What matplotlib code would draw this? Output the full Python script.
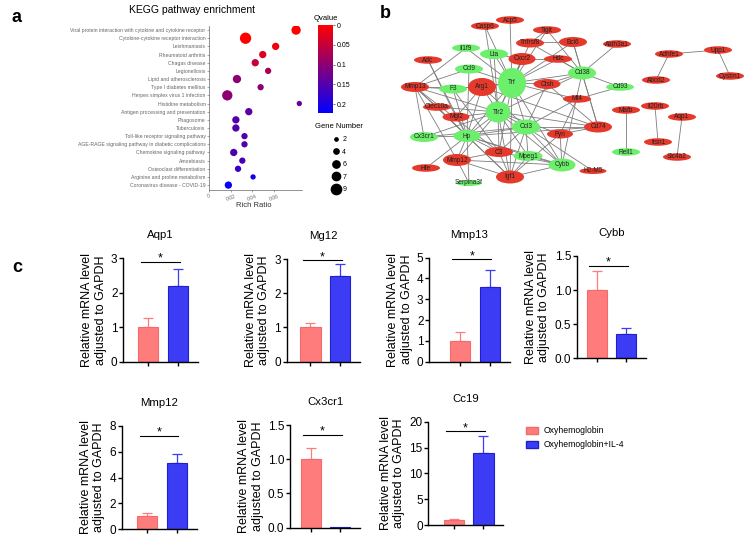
import numpy as np
import matplotlib
matplotlib.use('Agg')
import matplotlib.pyplot as plt
from matplotlib.patches import Ellipse, Patch
from matplotlib.lines import Line2D
from matplotlib.colors import LinearSegmentedColormap, Normalize
from matplotlib.collections import LineCollection

plt.rcParams['font.family'] = ['Liberation Sans', 'DejaVu Sans']

# ---- panel a data ----
pathways = [
    "Viral protein interaction with cytokine and cytokine receptor",
    "Cytokine-cytokine receptor interaction",
    "Leishmaniasis",
    "Rheumatoid arthritis",
    "Chagas disease",
    "Legionellosis",
    "Lipid and atherosclerosis",
    "Type I diabetes mellitus",
    "Herpes simplex virus 1 infection",
    "Histidine metabolism",
    "Antigen processing and presentation",
    "Phagosome",
    "Tuberculosis",
    "Toll-like receptor signaling pathway",
    "AGE-RAGE signaling pathway in diabetic complications",
    "Chemokine signaling pathway",
    "Amoebiasis",
    "Osteoclast differentiation",
    "Arginine and proline metabolism",
    "Coronavirus disease - COVID-19",
]
rich_ratio = [0.081, 0.034, 0.062, 0.050, 0.043, 0.055, 0.026, 0.048, 0.017, 0.084,
              0.037, 0.025, 0.025, 0.033, 0.033, 0.023, 0.031, 0.027, 0.041, 0.018]
qvalue = [0.0, 0.0, 0.01, 0.03, 0.05, 0.075, 0.10, 0.10, 0.10, 0.13,
          0.14, 0.15, 0.15, 0.15, 0.15, 0.155, 0.16, 0.175, 0.205, 0.215]
gene_number = [8, 10, 6, 6, 6, 5, 7, 5, 9, 4, 6, 6, 6, 5, 5, 6, 5, 5, 4, 6]
legend_genes = [2, 4, 6, 7, 9]

# ---- panel b data ----
node_names = ["Acp5", "Casp6", "Tigit", "Tnfrsf8", "Bcl6", "Aldh3a1", "Il1f9", "Lta",
              "Cxcr2", "Hdc", "Adc", "Ccl9", "Cd38", "Trf", "Arg1", "Ctsh", "Mmp13",
              "F3", "Cd93", "Clec10a", "Mt4", "Tlr2", "Mgl2", "Ccl3", "Cd74", "Cx3cr1",
              "Hp", "Fyn", "C3", "Mpeg1", "Mmp12", "Cybb", "Hfe", "H2-M5", "Igf1",
              "Serpina3f", "Adhfe1", "Upp1", "Abcd2", "Cystm1", "Mafb", "Rell1",
              "Il20rb", "Itsn1", "Aqp1", "Slc4a2"]
node_up = ["Acp5", "Casp6", "Tigit", "Tnfrsf8", "Bcl6", "Aldh3a1", "Cxcr2", "Hdc", "Adc",
           "Arg1", "Ctsh", "Mmp13", "Clec10a", "Mt4", "Mgl2", "Cd74", "Fyn", "C3",
           "Mmp12", "Hfe", "H2-M5", "Igf1", "Adhfe1", "Upp1", "Abcd2", "Cystm1",
           "Mafb", "Il20rb", "Itsn1", "Aqp1", "Slc4a2"]
edges = [
    ("Acp5", "Trf"), ("Casp6", "Trf"), ("Casp6", "Tlr2"), ("Tigit", "Trf"), ("Tigit", "Cd38"),
    ("Tigit", "Tnfrsf8"), ("Tnfrsf8", "Trf"), ("Tnfrsf8", "Cd38"), ("Tnfrsf8", "Bcl6"),
    ("Bcl6", "Cd38"), ("Bcl6", "Trf"), ("Bcl6", "Cd74"), ("Aldh3a1", "Cd38"),
    ("Cd38", "Cd93"), ("Cd38", "Cd74"), ("Cd38", "Trf"), ("Cd38", "Hdc"), ("Cd38", "Ctsh"),
    ("Cd38", "Cybb"), ("Cd38", "Tlr2"), ("Cd93", "Mt4"), ("Mt4", "Trf"), ("Mt4", "Ccl3"),
    ("Mt4", "Fyn"), ("Cd74", "Fyn"), ("Cd74", "Tlr2"), ("Cd74", "Ccl3"), ("Cd74", "Hp"),
    ("Ccl3", "H2-M5"), ("Fyn", "Cybb"), ("Fyn", "Tlr2"), ("Fyn", "Igf1"), ("Hdc", "Trf"),
    ("Hdc", "Cxcr2"), ("Cxcr2", "Trf"), ("Cxcr2", "Lta"), ("Cxcr2", "Tlr2"), ("Lta", "Trf"),
    ("Lta", "Tlr2"), ("Il1f9", "Mmp13"), ("Il1f9", "Trf"), ("Adc", "Hp"), ("Adc", "Mgl2"),
    ("Ccl9", "Trf"), ("Ccl9", "Hp"), ("Ccl9", "Mmp13"), ("Arg1", "Trf"), ("Arg1", "Tlr2"),
    ("Arg1", "Mmp13"), ("Arg1", "Hp"), ("Arg1", "Mgl2"), ("Arg1", "Ccl3"), ("Arg1", "Cd74"),
    ("Mmp13", "F3"), ("Mmp13", "Tlr2"), ("Mmp13", "Hp"), ("Mmp13", "Mmp12"),
    ("Mmp13", "Cx3cr1"), ("Mmp13", "Clec10a"), ("Mmp13", "C3"), ("F3", "Trf"), ("F3", "Hp"),
    ("F3", "C3"), ("Clec10a", "Tlr2"), ("Clec10a", "Hp"), ("Clec10a", "Igf1"),
    ("Mgl2", "Tlr2"), ("Mgl2", "Hp"), ("Tlr2", "Trf"), ("Tlr2", "Hp"), ("Tlr2", "Ccl3"),
    ("Tlr2", "C3"), ("Tlr2", "Igf1"), ("Tlr2", "Cybb"), ("Tlr2", "Mpeg1"), ("Tlr2", "Mmp12"),
    ("Trf", "Ccl3"), ("Trf", "Igf1"), ("Trf", "Cybb"), ("Trf", "Ctsh"), ("Trf", "C3"),
    ("Trf", "Hp"), ("Ccl3", "Cybb"), ("Ccl3", "Igf1"), ("Ccl3", "Mpeg1"), ("Ccl3", "Hp"),
    ("Ccl3", "C3"), ("Cx3cr1", "Hp"), ("Cx3cr1", "Tlr2"), ("Cx3cr1", "Ccl3"), ("Hp", "C3"),
    ("Hp", "Mmp12"), ("Hp", "Igf1"), ("Hp", "Hfe"), ("Hp", "Mpeg1"), ("Hp", "Cybb"),
    ("C3", "Igf1"), ("C3", "Mmp12"), ("C3", "Cybb"), ("Mpeg1", "Cybb"), ("Mpeg1", "Igf1"),
    ("Mmp12", "Igf1"), ("Mmp12", "Serpina3f"), ("Mmp12", "Cybb"), ("Igf1", "Cybb"),
    ("Serpina3f", "Hp"), ("Ctsh", "Ccl3"), ("Ctsh", "Cd74"),
    ("Adhfe1", "Upp1"), ("Adhfe1", "Abcd2"), ("Upp1", "Cystm1"), ("Mafb", "Rell1"),
    ("Il20rb", "Itsn1"), ("Aqp1", "Slc4a2"),
]

# ---- panel c data ----
qpcr_genes = ["Aqp1", "Mg12", "Mmp13", "Cybb", "Mmp12", "Cx3cr1", "Cc19"]
oxy_mean = [1.0, 1.0, 1.0, 1.0, 1.0, 1.0, 1.0]
oxy_err = [0.26, 0.12, 0.42, 0.28, 0.27, 0.16, 0.10]
il4_mean = [2.2, 2.5, 3.58, 0.35, 5.15, 0.005, 13.9]
il4_err = [0.48, 0.34, 0.82, 0.09, 0.65, 0.0, 3.3]
y_max = [3, 3, 5, 1.5, 8, 1.5, 20]
y_step = [1, 1, 1, 0.5, 2, 0.5, 5]
groups = ["Oxyhemoglobin", "Oxyhemoglobin+IL-4"]

# ---- layout (pixels) ----
W, H = 749, 537
node_pos = {
    "Acp5": (510, 20), "Casp6": (485, 26), "Tigit": (547, 30), "Tnfrsf8": (530, 43),
    "Bcl6": (573, 42), "Aldh3a1": (617, 44), "Il1f9": (466, 48), "Lta": (494, 54),
    "Cxcr2": (522, 59), "Hdc": (558, 59), "Adc": (428, 60), "Ccl9": (469, 69),
    "Cd38": (582, 73), "Trf": (512, 83), "Arg1": (482, 87), "Ctsh": (547, 84),
    "Mmp13": (415, 87), "F3": (453, 89), "Cd93": (620, 87), "Clec10a": (437, 107),
    "Mt4": (577, 99), "Tlr2": (498, 112), "Mgl2": (456, 117), "Ccl3": (526, 127),
    "Cd74": (598, 127), "Cx3cr1": (424, 137), "Hp": (467, 136), "Fyn": (560, 134),
    "C3": (499, 152), "Mpeg1": (528, 156), "Mmp12": (457, 160), "Cybb": (562, 165),
    "Hfe": (426, 168), "H2-M5": (593, 171), "Igf1": (510, 177), "Serpina3f": (469, 183),
    "Adhfe1": (669, 54), "Upp1": (718, 50), "Abcd2": (656, 80), "Cystm1": (730, 76),
    "Mafb": (626, 110), "Rell1": (626, 152), "Il20rb": (655, 106), "Itsn1": (658, 142),
    "Aqp1": (682, 117), "Slc4a2": (677, 157),
}
node_size = {"Trf": (28, 30), "Tlr2": (25, 21), "Arg1": (28, 18), "Ccl3": (28, 15),
             "Cd38": (28, 13), "Cybb": (27, 13), "Igf1": (28, 13), "Hp": (27, 12),
             "Cxcr2": (27, 12), "Mmp12": (28, 12), "Cd74": (28, 11), "Bcl6": (28, 10),
             "Lta": (28, 10), "Ctsh": (27, 10), "Mmp13": (28, 10), "Cx3cr1": (28, 10),
             "C3": (28, 10), "Mpeg1": (29, 10), "Tnfrsf8": (28, 9), "Ccl9": (28, 9),
             "F3": (28, 9), "Mgl2": (27, 9), "Fyn": (26, 9), "H2-M5": (27, 6),
             "Serpina3f": (26, 6)}
bar_box = [(123, 258.3, 198, 361.8), (286.7, 259, 360, 361.7), (429, 257.7, 510, 361.7),
           (576.7, 256, 646, 358.3), (121.7, 426, 196.7, 529), (290, 425, 360, 527.7),
           (428.3, 421.7, 503.3, 525)]
bar_xleft = [-0.85, -0.8, -1.03, -0.68, -0.87, -0.7, -0.86]
sig_frac = [0.967, 0.99, 0.985, 0.907, 0.906, 0.907, 0.91]


def box(l, t, r, b):
    return [l / W, 1 - b / H, (r - l) / W, (b - t) / H]


def dot_diam(g):
    # bubble diameter in pixels for a gene count
    return 1.3 + 1.0 * g


fig = plt.figure(figsize=(W / 100, H / 100), dpi=100)

#
# b: network, drawn in pixel coordinates on a figure-wide axes
#
axn = fig.add_axes([0, 0, 1, 1], zorder=0)
axn.set_xlim(0, W)
axn.set_ylim(H, 0)
axn.axis('off')
axn.patch.set_visible(False)
segs = [[node_pos[a], node_pos[b]] for a, b in edges]
axn.add_collection(LineCollection(segs, colors='#7c7c7c', linewidths=0.6, zorder=1))
for name in node_names:
    x, y = node_pos[name]
    w, h = node_size.get(name, (28, 7.5))
    fc = '#e5392c' if name in node_up else '#6cf06c'
    axn.add_patch(Ellipse((x, y), w, h, facecolor=fc, edgecolor='none', zorder=2))
    axn.text(x, y, name, ha='center', va='center', fontsize=4.7, color='#202020', zorder=3)
axn.text(380, 14, 'b', fontsize=13, fontweight='bold', va='center', ha='left')
axn.text(12, 18, 'a', fontsize=13, fontweight='bold', va='center', ha='left')
axn.text(12, 267, 'c', fontsize=13, fontweight='bold', va='center', ha='left')

#
# a: KEGG bubble plot
#
ax = fig.add_axes(box(209, 26, 302, 190))
cmap = LinearSegmentedColormap.from_list('qv', ['#ff0000', '#0000ff'])
norm = Normalize(0, 0.222)
rows = np.arange(len(pathways))
sizes = [(dot_diam(g) * 0.72) ** 2 for g in gene_number]
sc = ax.scatter(rich_ratio, rows, s=sizes, c=qvalue, cmap=cmap, norm=norm,
                edgecolors='none', zorder=3)
ax.set_ylim(19.6, -0.5)
ax.set_xlim(0, 0.0865)
ax.set_yticks(rows)
ax.set_yticklabels(pathways, fontsize=3.7, color='#555555')
ax.set_xticks([0, 0.02, 0.04, 0.06])
ax.set_xticklabels(['0', '0.02', '0.04', '0.06'], fontsize=3.7, color='#555555', rotation=20)
for s in ['top', 'right']:
    ax.spines[s].set_visible(False)
for s in ['left', 'bottom']:
    ax.spines[s].set_color('#666666')
    ax.spines[s].set_linewidth(0.5)
ax.tick_params(length=1.5, width=0.4, colors='#666666', pad=1)
fig.text(192 / W, 1 - 10 / H, 'KEGG pathway enrichment', ha='center', va='center', fontsize=7.5)
fig.text(254 / W, 1 - 206 / H, 'Rich Ratio', ha='center', va='center', fontsize=5.5, color='#333333')

cax = fig.add_axes(box(318, 25, 333, 113))
cb = fig.colorbar(sc, cax=cax)
cb.set_ticks([0, 0.05, 0.1, 0.15, 0.2])
cb.set_ticklabels(['0', '0.05', '0.1', '0.15', '0.2'])
cb.outline.set_visible(False)
cax.invert_yaxis()
cax.tick_params(labelsize=5, length=1.5, width=0.4, pad=1)
fig.text(326 / W, 1 - 18 / H, 'Qvalue', ha='center', va='center', fontsize=5.5)

handles = [Line2D([], [], marker='o', ls='', color='black', markersize=dot_diam(g) * 0.72)
           for g in legend_genes]
fig.legend(handles, [str(g) for g in legend_genes], title='Gene Number', loc='upper left',
           bbox_to_anchor=(312 / W, 1 - 120 / H), frameon=False, fontsize=5,
           title_fontsize=5.5, labelspacing=0.8, handletextpad=0.4, borderpad=0,
           handlelength=1.0)

#
# c: qPCR bars
#
pink, pink_e = '#ff7c7c', '#f26a6a'
blue, blue_e = '#3c3cf5', '#1f1fcf'
for i, name in enumerate(qpcr_genes):
    axb = fig.add_axes(box(*bar_box[i]))
    axb.bar([0, 1], [oxy_mean[i], il4_mean[i]], width=0.68, color=[pink, blue],
            edgecolor=[pink_e, blue_e], linewidth=0.8, zorder=2)
    axb.errorbar(0, oxy_mean[i], yerr=[[0], [oxy_err[i]]], fmt='none', ecolor=pink,
                 elinewidth=0.9, capsize=3.8, capthick=0.9, zorder=1)
    if il4_err[i] > 0:
        axb.errorbar(1, il4_mean[i], yerr=[[0], [il4_err[i]]], fmt='none', ecolor=blue,
                     elinewidth=0.9, capsize=3.8, capthick=0.9, zorder=1)
    axb.set_ylim(0, y_max[i])
    ticks = np.arange(0, y_max[i] + y_step[i] / 2, y_step[i])
    axb.set_yticks(ticks)
    if y_step[i] < 1:
        axb.set_yticklabels(['%.1f' % t for t in ticks])
    else:
        axb.set_yticklabels(['%d' % t for t in ticks])
    axb.set_xlim(bar_xleft[i], 1.67)
    axb.set_xticks([0, 1])
    axb.set_xticklabels([])
    for s in ['top', 'right']:
        axb.spines[s].set_visible(False)
    for s in ['left', 'bottom']:
        axb.spines[s].set_linewidth(1.0)
    axb.tick_params(labelsize=8.5, length=3, width=1.0, pad=1)
    axb.set_title(name, fontsize=8.2, pad=14.5)
    axb.set_ylabel('Relative mRNA level\nadjusted to GAPDH', fontsize=9, labelpad=3)
    ys = sig_frac[i] * y_max[i]
    axb.plot([-0.25, 1.05], [ys, ys], color='black', lw=0.8, clip_on=False)
    axb.text(0.4, ys, '*', ha='center', va='baseline', fontsize=9)

fig.legend([Patch(facecolor=pink, edgecolor=pink_e), Patch(facecolor=blue, edgecolor=blue_e)],
           groups, loc='upper left', bbox_to_anchor=(522 / W, 1 - 422 / H), frameon=False,
           fontsize=6.2, handlelength=1.4, handleheight=0.8, borderpad=0, labelspacing=0.6,
           handletextpad=0.6)

plt.savefig('out.png', dpi=100)
